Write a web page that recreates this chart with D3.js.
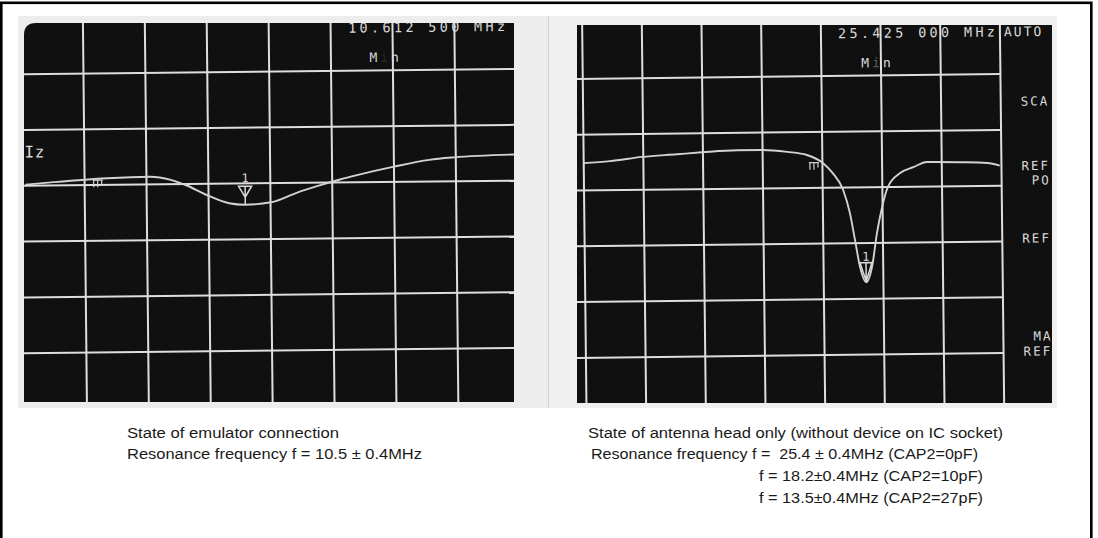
<!DOCTYPE html>
<html>
<head>
<meta charset="utf-8">
<script src="https://cdn.jsdelivr.net/npm/d3@7"></script>
<style>
  body { margin: 0; background: #fff; }
  svg { display: block; }
</style>
</head>
<body>
<svg id="chart"></svg>
<script>
var emuX = [0.05, 0.51, 1.37, 2.06, 2.40, 2.65, 2.98, 3.34, 3.60, 4.02, 4.42, 4.83, 5.12, 5.41, 5.99, 6.58, 6.98, 7.95];
var emuY = [2.99, 2.95, 2.89, 2.87, 2.93, 3.03, 3.21, 3.36, 3.39, 3.35, 3.19, 3.05, 2.96, 2.88, 2.74, 2.62, 2.58, 2.54];

var antX = [0.00, 0.45, 0.99, 1.57, 1.99, 2.58, 3.00, 3.42, 3.75, 4.02, 4.18, 4.35, 4.46, 4.54, 4.62, 4.72, 4.82, 4.91, 5.00, 5.10, 5.31, 5.53, 5.76, 6.31, 6.77, 6.98];
var antY = [2.52, 2.49, 2.42, 2.38, 2.35, 2.32, 2.32, 2.36, 2.42, 2.57, 2.75, 3.05, 3.47, 3.95, 4.44, 4.71, 4.44, 3.83, 3.37, 3.01, 2.76, 2.66, 2.57, 2.58, 2.60, 2.65];

var emuMarker = 3.60, antMarker = 4.72;   // marker 1 (min search)
var emuRef = 1.30, antRef = 3.95;         // small reference glyph

var emuScreenText = ["10.612 500 MHz", "Iz"];
var antScreenText = ["25.425 000 MHz", "AUTO"];
var antSoftkeys = ["SCA", "REF", "PO", "REF", "MA", "REF"];

var emuCaption = ["State of emulator connection",
                  "Resonance frequency f = 10.5 \u00b1 0.4MHz"];
var antCaption = ["State of antenna head only (without device on IC socket)",
                  "Resonance frequency f =  25.4 \u00b1 0.4MHz (CAP2=0pF)",
                  "f = 18.2\u00b10.4MHz (CAP2=10pF)",
                  "f = 13.5\u00b10.4MHz (CAP2=27pF)"];

var W = 1098, H = 538;
var gridColor = "#dedede", traceColor = "#d2d2d2", screenInk = "#d9d9d9";
var mono = "'DejaVu Sans Mono', monospace";

var svg = d3.select("#chart").attr("width", W).attr("height", H);

// page frame
svg.append("rect")
  .attr("x", 1.3).attr("y", 2.8)
  .attr("width", 1090).attr("height", H + 20)
  .attr("fill", "#fff")
  .attr("stroke", "#000")
  .attr("stroke-width", 2.6);

// photo paper
svg.append("rect").attr("x", 18).attr("y", 16).attr("width", 530).attr("height", 392).attr("fill", "#ededed");
svg.append("rect").attr("x", 549).attr("y", 16).attr("width", 508).attr("height", 392).attr("fill", "#f0f0f0");
svg.append("line").attr("x1", 548.5).attr("x2", 548.5).attr("y1", 16).attr("y2", 408)
  .attr("stroke", "#d4d4d4").attr("stroke-width", 1.2);

var defs = svg.append("defs");

function drawScreen(o) {
  var x = d3.scaleLinear().domain([0, o.cols]).range([o.x0, o.x0 + o.cols * o.dx]);
  var y = d3.scaleLinear().domain([0, o.rows]).range([o.y0, o.y0 + o.rows * o.dy]);

  defs.append("clipPath").attr("id", o.id + "-clip")
    .append("path").attr("d", o.shape);

  svg.append("path").attr("d", o.shape).attr("fill", "#101010");

  var scr = svg.append("g").attr("clip-path", "url(#" + o.id + "-clip)");
  var g = scr.append("g")
    .attr("transform", "rotate(" + o.angle + "," + o.cx + "," + o.cy + ")");

  // graticule
  g.append("g")
    .attr("transform", "translate(0," + o.vSpan[0] + ")")
    .call(d3.axisBottom(x).tickValues(o.vTicks).tickSize(o.vSpan[1] - o.vSpan[0]).tickFormat(""))
    .call(function(a) { a.select(".domain").remove(); });
  g.append("g")
    .attr("transform", "translate(" + o.hSpan[0] + ",0)")
    .call(d3.axisRight(y).tickValues(o.hTicks).tickSize(o.hSpan[1] - o.hSpan[0]).tickFormat(""))
    .call(function(a) { a.select(".domain").remove(); });
  g.selectAll(".tick line").attr("stroke", gridColor).attr("stroke-width", 2);

  // trace
  var pts = d3.zip(o.xs, o.ys);
  var line = d3.line()
    .x(function(d) { return x(d[0]); })
    .y(function(d) { return y(d[1]); })
    .curve(d3.curveMonotoneX);
  g.append("path")
    .datum(pts)
    .attr("d", line)
    .attr("fill", "none")
    .attr("stroke", traceColor)
    .attr("stroke-width", 1.9);

  var traceAt = d3.scaleLinear().domain(o.xs).range(o.ys);

  // reference glyph hanging under the trace
  var rx = x(o.ref), ry = y(traceAt(o.ref)) + 1.5;
  g.append("path")
    .attr("d", "M" + (rx - 10) + "," + ry + "h10" +
               "M" + (rx - 9) + "," + ry + "v7" +
               "M" + (rx - 5) + "," + ry + "v7" +
               "M" + (rx - 1) + "," + ry + "v5")
    .attr("fill", "none").attr("stroke", traceColor).attr("stroke-width", 1.2);

  // marker 1
  var mx = x(o.marker), my = y(traceAt(o.marker));
  var m = o.markerShape;
  g.append("path")
    .attr("d", "M" + (mx - m.half) + "," + (my - m.top) + "H" + (mx + m.half) +
               "L" + mx + "," + (my - m.apex) + "Z" +
               "M" + mx + "," + (my - m.top) + "V" + my)
    .attr("fill", "none").attr("stroke", screenInk).attr("stroke-width", 1.5);
  g.append("text")
    .attr("x", mx).attr("y", my - m.label)
    .attr("text-anchor", "middle")
    .attr("font-family", mono).attr("font-size", 12)
    .attr("fill", screenInk)
    .text("1");

  return g;
}

function screenText(g, str, x, y, size, len) {
  var t = g.append("text")
    .attr("x", x).attr("y", y)
    .attr("font-family", mono).attr("font-size", size)
    .attr("fill", screenInk)
    .text(str);
  if (len) t.attr("textLength", len).attr("lengthAdjust", "spacing");
  else t.attr("letter-spacing", 2);
  return t;
}

function minLabel(g, x, y, iOpacity) {
  var t = g.append("text")
    .attr("x", x).attr("y", y)
    .attr("font-family", mono).attr("font-size", 13)
    .attr("letter-spacing", 3)
    .attr("fill", screenInk);
  t.append("tspan").text("M");
  t.append("tspan").attr("fill-opacity", iOpacity).text("i");
  t.append("tspan").text("n");
}

// left: emulator connected
var gL = drawScreen({
  id: "emu",
  shape: "M24,35 Q24,23 36,23 H514 V402 H24 Z",
  x0: 22.5, y0: 15.3, dx: 61.9, dy: 55.8, cols: 8, rows: 7,
  vTicks: d3.range(1, 8), hTicks: d3.range(1, 7),
  vSpan: [5, 420], hSpan: [10, 530],
  angle: -0.6, cx: 270, cy: 210,
  xs: emuX, ys: emuY, marker: emuMarker, ref: emuRef,
  markerShape: { half: 6.5, top: 18.5, apex: 7.5, label: 22.5 }
});
screenText(gL, emuScreenText[0], 350, 33.5, 13.5, 157);
screenText(gL, emuScreenText[1], 25, 155, 16, 20);
minLabel(gL, 371, 63, 0.15);

// right: antenna head only
var gR = drawScreen({
  id: "ant",
  shape: "M577,25 H1052 V403 H577 Z",
  x0: 583.8, y0: 19.9, dx: 59.67, dy: 55.8, cols: 7, rows: 7,
  vTicks: d3.range(0, 8), hTicks: d3.range(1, 7),
  vSpan: [5, 420], hSpan: [565, 1001.5],
  angle: -0.65, cx: 815, cy: 214,
  xs: antX, ys: antY, marker: antMarker, ref: antRef,
  markerShape: { half: 6, top: 19.5, apex: 1, label: 21.5 }
});
screenText(gR, antScreenText[0], 840, 38.5, 13.5, 157);
screenText(gR, antScreenText[1], 1006, 38.5, 13);
minLabel(gR, 863, 68, 0.4);

// right-hand softkey labels, cut by the photo edge
var softY = [108, 172.5, 187, 245, 343, 358];
var softX = [1022, 1022, 1032, 1022, 1032, 1022];
antSoftkeys.forEach(function(s, i) {
  screenText(gR, s, softX[i], softY[i], 12.5);
});

// captions under the photos
var capFont = "'Liberation Sans', Arial, sans-serif";
function caption(lines, xs, ys, lens) {
  svg.selectAll(null)
    .data(lines)
    .enter()
    .append("text")
    .attr("x", function(d, i) { return xs[i]; })
    .attr("y", function(d, i) { return ys[i]; })
    .attr("textLength", function(d, i) { return lens[i]; })
    .attr("lengthAdjust", "spacingAndGlyphs")
    .attr("font-family", capFont)
    .attr("font-size", 14)
    .attr("fill", "#1a1a1a")
    .style("white-space", "pre")
    .text(function(d) { return d; });
}
caption(emuCaption, [127, 127], [438, 459], [212, 295]);
caption(antCaption, [588, 591, 759, 759], [438, 459, 481, 503], [415, 387, 224, 224]);
</script>
</body>
</html>
